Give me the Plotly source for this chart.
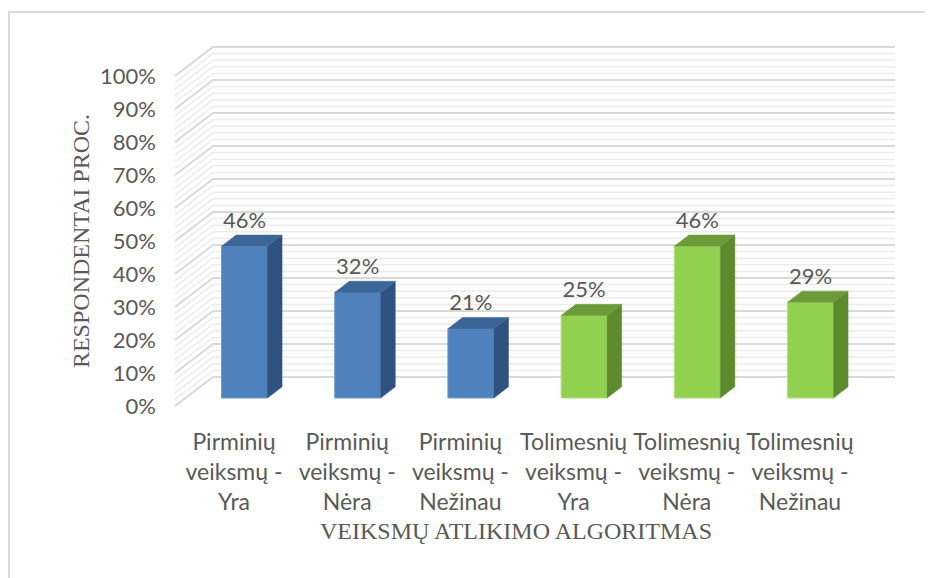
import plotly.graph_objects as go

# ---------------- data ----------------
categories = [
    "Pirminių<br>veiksmų -<br>Yra",
    "Pirminių<br>veiksmų -<br>Nėra",
    "Pirminių<br>veiksmų -<br>Nežinau",
    "Tolimesnių<br>veiksmų -<br>Yra",
    "Tolimesnių<br>veiksmų -<br>Nėra",
    "Tolimesnių<br>veiksmų -<br>Nežinau",
]
values = [46, 32, 21, 25, 46, 29]
groups = ["Pirminių", "Pirminių", "Pirminių", "Tolimesnių", "Tolimesnių", "Tolimesnių"]
y_ticks = list(range(0, 101, 10))
y_minor_step = 2
x_title = "VEIKSMŲ ATLIKIMO ALGORITMAS"
y_title = "RESPONDENTAI PROC."

# ---------------- styling / geometry ----------------
W_REF, H_REF = 933, 578
OFF = 8                      # page body margin
W, H = W_REF - OFF, H_REF - OFF
PX_X = 113.2          # px per category unit
PX_Y = 3.3            # px per percent
X0_PX = 234           # px of category 0 on front plane
Y0_PX = 406           # px of 0 % on front plane
DX = 38 / PX_X        # depth shift (x) for full depth
DY = 29 / PX_Y        # depth shift (y) for full depth
D0, D1 = 0.276, 0.66  # bar depth span
BAR_W = 0.406
WALL_X0 = (175 - X0_PX) / PX_X
WALL_X1 = (857 - X0_PX) / PX_X

colors = {
    "Pirminių": dict(front="#4f81bd", side="#2f5280", top="#3c6598", edge="#6f9ad2"),
    "Tolimesnių": dict(front="#92d050", side="#5e8a2e", top="#6c9c3a", edge="#aee27c"),
}
TXT = "#595959"
SANS = "Lato, 'Open Sans', sans-serif"
SERIF = "'Liberation Serif', 'Times New Roman', serif"


def proj(x, y, d):
    return x + DX * d, y + DY * d


fig = go.Figure()

# gridlines on back and side walls (as shapes below the traces)
shapes = []
v = 0
while v <= y_ticks[-1]:
    major = v in y_ticks
    p1 = proj(WALL_X0, v, 0)
    p2 = proj(WALL_X0, v, 1)
    p3 = proj(WALL_X1, v, 1)
    shapes.append(dict(
        type="path", xref="x", yref="y", layer="below",
        path=f"M {p1[0]},{p1[1]} L {p2[0]},{p2[1]} L {p3[0]},{p3[1]}",
        line=dict(color="#d9d9d9" if major else "#ececec", width=2 if major else 1.5),
    ))
    v += y_minor_step

# outer frame
shapes.append(dict(type="rect", xref="paper", yref="paper",
                   x0=(9 - OFF) / W, y0=-0.05, x1=1.05, y1=(H_REF - 12) / H,
                   line=dict(color="#d9d9d9", width=2), fillcolor="rgba(0,0,0,0)"))

# bars: front faces
for g in ["Pirminių", "Tolimesnių"]:
    idx = [i for i, gg in enumerate(groups) if gg == g]
    c = colors[g]
    fig.add_trace(go.Bar(
        x=[proj(i, 0, D0)[0] for i in idx],
        y=[values[i] for i in idx],
        base=[proj(i, 0, D0)[1] for i in idx],
        width=BAR_W,
        marker=dict(color=c["front"], line=dict(color=c["edge"], width=1)),
        showlegend=False, hoverinfo="skip",
    ))
    # side faces and top faces
    sx, sy, tx, ty = [], [], [], []
    for i in idx:
        val = values[i]
        xr, xl = i + BAR_W / 2, i - BAR_W / 2
        for pt in [(xr, 0, D0), (xr, 0, D1), (xr, val, D1), (xr, val, D0), (xr, 0, D0)]:
            px, py = proj(*pt)
            sx.append(px); sy.append(py)
        sx.append(None); sy.append(None)
        for pt in [(xl, val, D0), (xr, val, D0), (xr, val, D1), (xl, val, D1), (xl, val, D0)]:
            px, py = proj(*pt)
            tx.append(px); ty.append(py)
        tx.append(None); ty.append(None)
    fig.add_trace(go.Scatter(x=sx, y=sy, mode="lines", fill="toself", fillcolor=c["side"],
                             line=dict(color=c["side"], width=0.5),
                             showlegend=False, hoverinfo="skip"))
    fig.add_trace(go.Scatter(x=tx, y=ty, mode="lines", fill="toself", fillcolor=c["top"],
                             line=dict(color=c["top"], width=0.5),
                             showlegend=False, hoverinfo="skip"))

# data labels
fig.add_trace(go.Scatter(
    x=[proj(i, 0, D0)[0] for i in range(len(values))],
    y=[values[i] + DY * D1 + 0.6 for i in range(len(values))],
    mode="text", text=[f"{v}%" for v in values], textposition="top center",
    textfont=dict(family=SANS, size=22, color=TXT),
    showlegend=False, hoverinfo="skip",
))

# dummy trace for the labelled front-plane axes
fig.add_trace(go.Scatter(x=[0], y=[0], xaxis="x2", yaxis="y2", mode="markers",
                         marker=dict(opacity=0), showlegend=False, hoverinfo="skip"))

fig.update_layout(
    width=W, height=H,
    margin=dict(l=0, r=0, t=0, b=0),
    paper_bgcolor="white", plot_bgcolor="rgba(0,0,0,0)",
    shapes=shapes,
    xaxis=dict(range=[(OFF - X0_PX) / PX_X, (W_REF - X0_PX) / PX_X], domain=[0, 1],
               visible=False, fixedrange=True),
    yaxis=dict(range=[(Y0_PX - H_REF) / PX_Y, (Y0_PX - OFF) / PX_Y], domain=[0, 1],
               visible=False, fixedrange=True),
    xaxis2=dict(range=[WALL_X0, WALL_X1],
                domain=[(X0_PX + WALL_X0 * PX_X - OFF) / W, (X0_PX + WALL_X1 * PX_X - OFF) / W],
                anchor="y2", tickmode="array", tickvals=list(range(len(categories))),
                ticktext=categories, showgrid=False, zeroline=False, showline=False,
                ticks="", ticklabelstandoff=20, automargin=False,
                tickfont=dict(family=SANS, size=23, color=TXT),
                title=dict(text=x_title, standoff=8,
                           font=dict(family=SERIF, size=24, color=TXT))),
    yaxis2=dict(range=[0, 100],
                domain=[(H_REF - Y0_PX) / H, (H_REF - (Y0_PX - 100 * PX_Y)) / H],
                anchor="x2", tickmode="array", tickvals=y_ticks,
                ticktext=[f"{t}%" for t in y_ticks],
                showgrid=False, zeroline=False, showline=False,
                ticks="", ticklabelstandoff=18, automargin=False,
                tickfont=dict(family=SANS, size=22, color=TXT),
                title=dict(text=y_title, standoff=3,
                           font=dict(family=SERIF, size=24, color=TXT))),
)

fig.write_html("out.html")
